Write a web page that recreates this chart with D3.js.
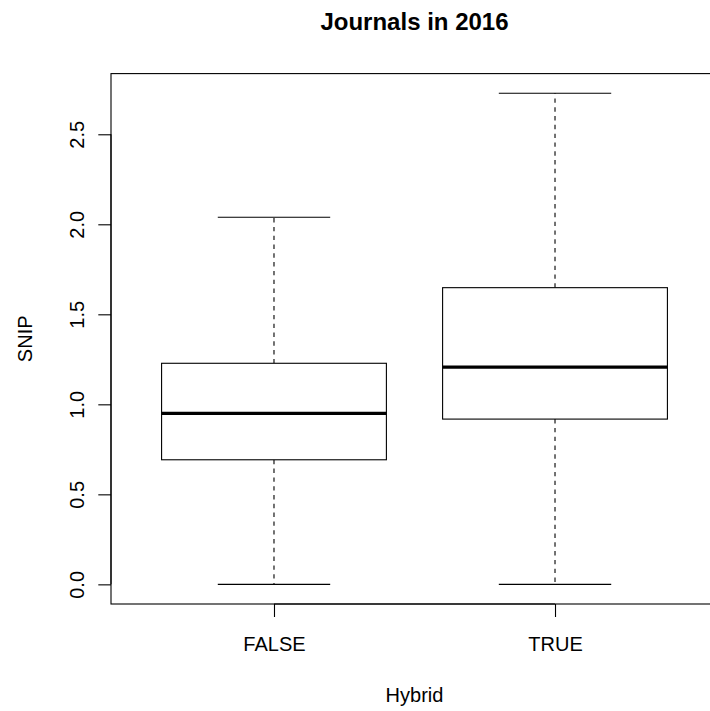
<!DOCTYPE html>
<html lang="en">
<head>
<meta charset="utf-8">
<title>Journals in 2016</title>
<style>
  * { margin: 0; padding: 0; }
  body { background: #fff; }
  svg text { font-family: "Liberation Sans", Arial, sans-serif; fill: #000; }
</style>
</head>
<body>
<div id="chart"></div>
<script src="https://d3js.org/d3.v7.min.js"></script>
<script>
// values
var groups = ["FALSE", "TRUE"];
var lowerWhisker = [0, 0];
var q1 = [0.692, 0.918];
var median = [0.95, 1.207];
var q3 = [1.228, 1.648];
var upperWhisker = [2.039, 2.728];
var yTicks = [0, 0.5, 1, 1.5, 2, 2.5];

var width = 710, height = 711;
var plotLeft = 111, plotTop = 73.6, plotBottom = 604, plotRight = 718;

var svg = d3.select("#chart").append("svg")
    .attr("width", width)
    .attr("height", height);

// R style: 4% extension on each side
var lo = d3.min(lowerWhisker), hi = d3.max(upperWhisker);
var pad = (hi - lo) * 0.04;
var y = d3.scaleLinear().domain([lo - pad, hi + pad]).range([plotBottom, plotTop]);
var x = d3.scaleLinear().domain([0.5 - 0.08, groups.length + 0.5 + 0.08]).range([plotLeft, plotRight]);

var boxHalf = 0.4, capHalf = 0.2;
var lw = 1.1;

var g = svg.append("g");

groups.forEach(function (name, i) {
    var cx = x(i + 1);
    // whiskers
    g.append("line")
        .attr("x1", cx).attr("x2", cx)
        .attr("y1", y(q3[i])).attr("y2", y(upperWhisker[i]))
        .attr("stroke", "#000").attr("stroke-width", lw)
        .attr("stroke-dasharray", "4.4,4.4");
    g.append("line")
        .attr("x1", cx).attr("x2", cx)
        .attr("y1", y(q1[i])).attr("y2", y(lowerWhisker[i]))
        .attr("stroke", "#000").attr("stroke-width", lw)
        .attr("stroke-dasharray", "4.4,4.4");
    // staples
    [lowerWhisker[i], upperWhisker[i]].forEach(function (v) {
        g.append("line")
            .attr("x1", x(i + 1 - capHalf)).attr("x2", x(i + 1 + capHalf))
            .attr("y1", y(v)).attr("y2", y(v))
            .attr("stroke", "#000").attr("stroke-width", lw);
    });
    // box
    g.append("rect")
        .attr("x", x(i + 1 - boxHalf))
        .attr("y", y(q3[i]))
        .attr("width", x(i + 1 + boxHalf) - x(i + 1 - boxHalf))
        .attr("height", y(q1[i]) - y(q3[i]))
        .attr("fill", "#fff")
        .attr("stroke", "#000").attr("stroke-width", lw);
    // median
    g.append("line")
        .attr("x1", x(i + 1 - boxHalf)).attr("x2", x(i + 1 + boxHalf))
        .attr("y1", y(median[i])).attr("y2", y(median[i]))
        .attr("stroke", "#000").attr("stroke-width", 3.3);
});

// frame
svg.append("rect")
    .attr("x", plotLeft).attr("y", plotTop)
    .attr("width", plotRight - plotLeft).attr("height", plotBottom - plotTop)
    .attr("fill", "none")
    .attr("stroke", "#000").attr("stroke-width", lw);

// y axis
var yAxis = svg.append("g")
    .attr("transform", "translate(" + plotLeft + ",0)")
    .call(d3.axisLeft(y).tickValues(yTicks).tickFormat(d3.format(".1f")).tickSize(12.7).tickPadding(0));
yAxis.select(".domain").attr("d", "M0," + y(yTicks[0]) + "V" + y(yTicks[yTicks.length - 1]))
    .attr("stroke", "#000").attr("stroke-width", lw);
yAxis.selectAll(".tick line").attr("stroke", "#000").attr("stroke-width", lw);
yAxis.selectAll(".tick text")
    .attr("font-size", 20)
    .attr("x", 0).attr("dy", null)
    .attr("text-anchor", "middle")
    .attr("transform", "translate(-27.5,0) rotate(-90)");

// x axis
var xAxis = svg.append("g")
    .attr("transform", "translate(0," + plotBottom + ")")
    .call(d3.axisBottom(x).tickValues(groups.map(function (d, i) { return i + 1; }))
        .tickFormat(function (d) { return groups[d - 1]; }).tickSize(13).tickPadding(0));
xAxis.select(".domain").attr("d", "M" + x(1) + ",0H" + x(groups.length))
    .attr("stroke", "#000").attr("stroke-width", lw);
xAxis.selectAll(".tick line").attr("stroke", "#000").attr("stroke-width", lw);
xAxis.selectAll(".tick text")
    .attr("font-size", 20)
    .attr("dy", null)
    .attr("y", 47);

// titles
svg.append("text")
    .attr("x", (plotLeft + plotRight) / 2).attr("y", 30)
    .attr("text-anchor", "middle")
    .attr("font-size", 24).attr("font-weight", "bold")
    .text("Journals in 2016");

svg.append("text")
    .attr("x", (plotLeft + plotRight) / 2).attr("y", 702)
    .attr("text-anchor", "middle")
    .attr("font-size", 20)
    .text("Hybrid");

svg.append("text")
    .attr("transform", "translate(31.5," + ((plotTop + plotBottom) / 2) + ") rotate(-90)")
    .attr("text-anchor", "middle")
    .attr("font-size", 20)
    .text("SNIP");
</script>
</body>
</html>
